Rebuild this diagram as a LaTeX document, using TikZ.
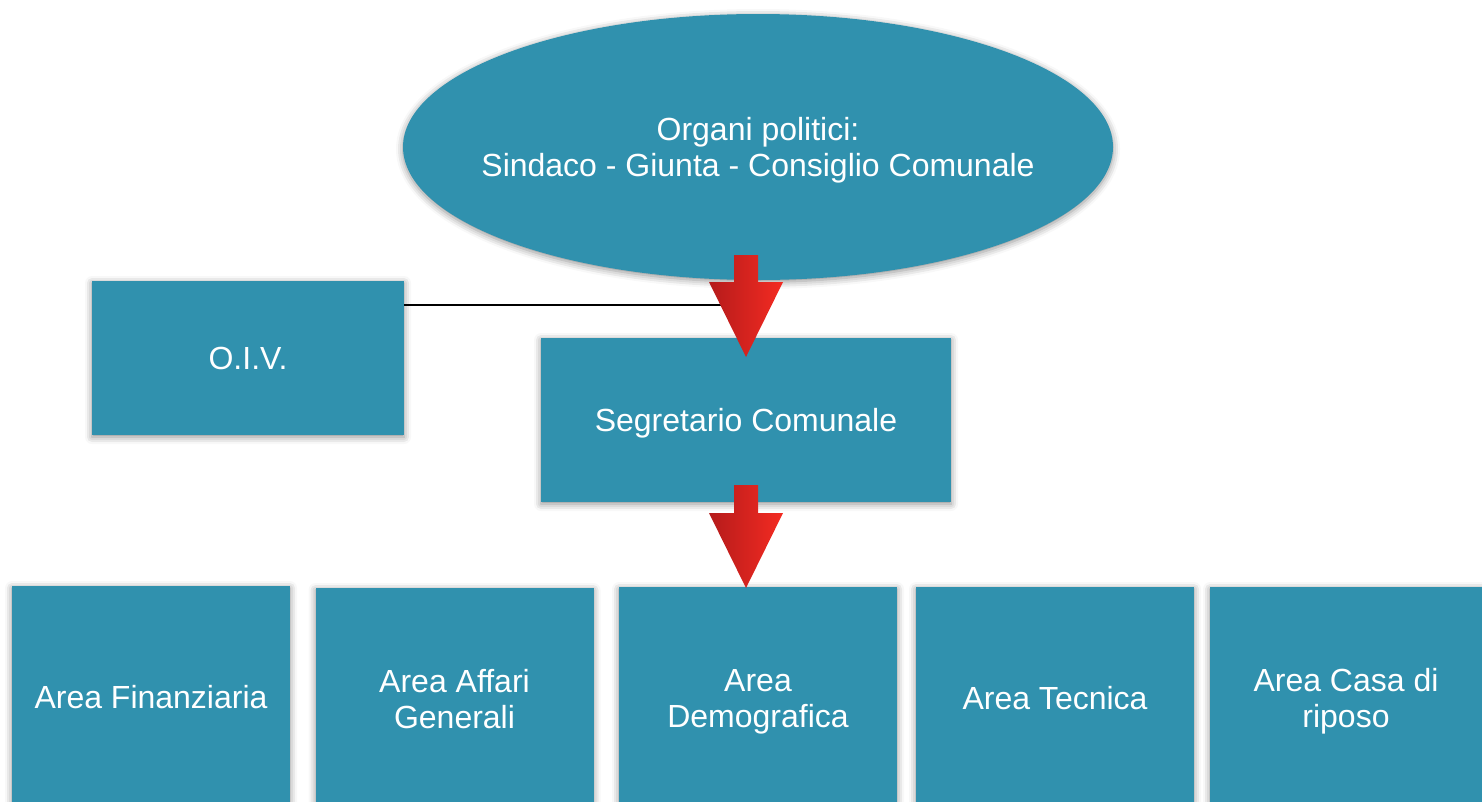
\documentclass[tikz,border=0pt]{standalone}
\usepackage{fontspec}
\setmainfont{Liberation Sans}
\usetikzlibrary{shapes.geometric,shadows.blur,calc}
\definecolor{tealbox}{HTML}{3091AE}
\definecolor{ardark}{HTML}{B51B1B}
\definecolor{arlight}{HTML}{F42B22}
\newcommand\redarrow[2]{%
  \shade[left color=ardark,right color=arlight]
    ($(#1)+(-12,0)$) -- ($(#1)+(12,0)$) -- ($(#2)+(12,-75)$) -- ($(#2)+(37,-75)$)
    -- (#2) -- ($(#2)+(-37,-75)$) -- ($(#2)+(-12,-75)$) -- cycle;}
\begin{document}
\begin{tikzpicture}[x=1pt,y=-1pt,
  box/.style={fill=tealbox, text=white, align=center, inner sep=0pt,
    font=\fontsize{32}{36}\selectfont,
    blur shadow={shadow xshift=0pt, shadow yshift=-2pt, shadow blur radius=7pt, shadow opacity=45}},
  areabox/.style={box, text depth=0pt, minimum width=278, minimum height=222}]
\useasboundingbox (0,0) rectangle (1482,801);
\node[box, ellipse, inner xsep=-30pt, text depth=0pt, minimum width=710, minimum height=266] (org) at (758,147)
  {Organi politici:\\Sindaco - Giunta - Consiglio Comunale};
\node[box, minimum width=312, minimum height=154] (oiv) at (248,358) {O.I.V.};
\node[box, text depth=0pt, minimum width=410, minimum height=164] (seg) at (746,420) {Segretario Comunale};
\node[areabox] (a1) at (151,697) {Area Finanziaria};
\node[areabox] (a2) at (454.5,699) {Area Affari\\Generali};
\node[areabox] (a3) at (758,698) {Area\\Demografica};
\node[areabox] (a4) at (1055,698) {Area Tecnica};
\node[areabox, minimum width=272] (a5) at (1346,698) {Area Casa di\\riposo};
\coordinate (j) at (730,305);
\draw[black, line width=1.2pt] (oiv.east |- j) -- (j);
\coordinate (s1) at (746,255);
\coordinate (t1) at (746,357);
\coordinate (s2) at (746,485);
\coordinate (t2) at (746,588);
\redarrow{s1}{t1}
\redarrow{s2}{t2}
\end{tikzpicture}
\end{document}
